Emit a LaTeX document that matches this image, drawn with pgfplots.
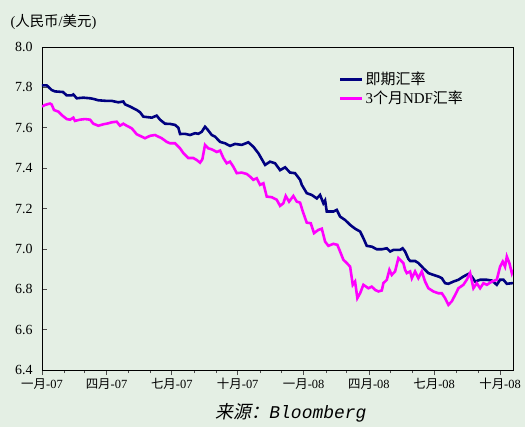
\documentclass[border=0pt]{standalone}
\usepackage{fontspec}
\setmainfont{Liberation Serif}
\newfontfamily\cjk{Noto Sans CJK SC}
\newfontfamily\cjkit[FakeSlant=0.2]{Noto Sans CJK SC}
\newfontfamily\monoit{Liberation Mono}
\usepackage{pgfplots}
\pgfplotsset{compat=1.18}
\definecolor{bg}{RGB}{228,239,228}
\definecolor{spot}{RGB}{0,0,128}
\definecolor{ndf}{RGB}{255,0,255}
\begin{document}
\begin{tikzpicture}
\fill[bg] (0,0) rectangle (525bp,427bp);
\path[use as bounding box] (0,0) rectangle (525bp,427bp);
\begin{axis}[
  at={(42bp,57bp)}, anchor=south west,
  scale only axis, width=471bp, height=323bp,
  xmin=0, xmax=657, ymin=6.4, ymax=8.0,
  axis background/.style={fill=bg},
  axis line style={black, line width=0.8pt},
  xtick={0,90,181,273,365,456,547,639},
  xticklabels={{\cjk 一月}-07,{\cjk 四月}-07,{\cjk 七月}-07,{\cjk 十月}-07,{\cjk 一月}-08,{\cjk 四月}-08,{\cjk 七月}-08,{\cjk 十月}-08},
  minor xtick={31,59,120,151,212,243,304,334,396,425,486,517,578,609},
  ytick={6.4,6.6,...,8.01},
  /pgf/number format/assume math mode=true,
  xtick align=outside, ytick align=inside,
  xtick pos=bottom, ytick pos=left,
  major tick length=5bp, minor tick length=3bp,
  tick style={black!70, line width=0.6pt},
  yticklabel style={font=\fontsize{14}{16}\selectfont, text=black, xshift=-6bp,
    /pgf/number format/.cd, fixed, fixed zerofill, precision=1},
  xticklabel style={font=\fontsize{12.5}{14}\selectfont, text=black},
  legend style={at={(rel axis cs:0.624,0.935)}, anchor=north west, draw=none, fill=none,
    font=\fontsize{15}{18}\selectfont, row sep=1pt, cells={anchor=west}},
  legend image code/.code={\draw[#1] (0bp,0bp) -- (22bp,0bp);},
]
\addplot[spot, line width=2.6pt] table {
0 7.81
6.6 7.81
13.5 7.787
18.1 7.78
29.3 7.777
34.5 7.76
41.4 7.76
43.7 7.765
48.4 7.746
57.6 7.749
67 7.746
71.6 7.743
78.6 7.736
90.3 7.733
97.3 7.733
106.5 7.726
113.4 7.73
115.8 7.716
122.8 7.705
132.1 7.688
136.7 7.677
141.3 7.655
153.1 7.65
160 7.66
164.6 7.64
171.6 7.62
178.6 7.619
185.6 7.614
190.2 7.60
192.6 7.569
199.5 7.57
206.5 7.564
213.5 7.573
218.1 7.57
222.8 7.58
227.4 7.605
231.2 7.59
236.8 7.564
241.4 7.556
248.4 7.53
255.3 7.523
262.3 7.51
269.3 7.52
278.6 7.515
287.8 7.528
294.8 7.506
301.8 7.474
311.2 7.416
318.1 7.432
325.1 7.424
332.1 7.39
339.1 7.404
346 7.378
353 7.375
360 7.342
362.4 7.317
369.3 7.276
376.3 7.267
383.3 7.25
387.9 7.267
392.5 7.226
394.9 7.24
397.2 7.185
406.5 7.185
411.2 7.193
415.8 7.16
422.8 7.143
429.8 7.119
436.7 7.10
443.7 7.086
448.3 7.053
453 7.015
460 7.011
467 6.998
474 6.998
481 7.003
485.6 6.987
490.2 6.995
499.5 6.995
503 7.003
506.5 6.987
511.1 6.95
513.5 6.94
520.4 6.94
525 6.93
532 6.904
539 6.88
546 6.871
553 6.863
557.7 6.855
562.3 6.83
566.9 6.827
573.9 6.838
580.9 6.847
587.8 6.863
594.8 6.876
599.5 6.863
604.2 6.838
611.1 6.847
620.5 6.847
627.5 6.843
634.4 6.822
639 6.847
643.7 6.847
648.4 6.827
655.4 6.83
657 6.83
};
\addlegendentry{\cjk 即期汇率}
\addplot[ndf, line width=2.6pt] table {
0 7.705
4.2 7.713
11.2 7.72
13.5 7.715
16.7 7.688
22.7 7.68
27.5 7.663
34.5 7.643
39.1 7.64
43.7 7.65
46 7.634
53 7.64
60 7.643
67 7.64
71.6 7.62
78.6 7.61
85.5 7.617
92.5 7.622
97.3 7.627
104.2 7.63
108.8 7.61
113.4 7.62
118.2 7.61
125.2 7.597
132.1 7.568
136.7 7.56
143.7 7.548
150.7 7.56
157.7 7.564
162.3 7.556
167 7.548
174 7.53
178.6 7.523
185.6 7.523
192.6 7.498
197.2 7.474
204.1 7.45
211.1 7.45
215.9 7.44
220.5 7.427
223.7 7.444
227.4 7.515
232 7.498
236.8 7.493
243.8 7.48
248.4 7.487
253 7.45
257.7 7.424
262.3 7.432
266.9 7.407
271.7 7.375
278.6 7.378
285.6 7.371
290.2 7.358
294.8 7.342
299.6 7.35
304.2 7.317
308.8 7.325
313.5 7.259
320.5 7.256
327.5 7.243
332.1 7.213
336.7 7.226
340 7.262
344.6 7.234
350.6 7.262
355.4 7.234
360 7.229
363.8 7.185
369.3 7.13
374.9 7.127
379.5 7.078
385.5 7.094
390.3 7.10
394.9 7.036
399.5 7.015
406.5 7.025
412 7.02
415.8 6.987
420.4 6.946
425.1 6.93
429.8 6.912
433.5 6.822
436.7 6.838
439.9 6.756
443.7 6.78
448.3 6.822
455.3 6.805
460 6.813
464.6 6.797
469.2 6.789
474 6.794
476.2 6.83
481 6.847
484.6 6.896
487.9 6.871
492.5 6.888
497.1 6.954
501.9 6.937
504.1 6.929
506.5 6.896
508.9 6.88
513.5 6.888
515.9 6.855
520.4 6.888
525 6.855
529.8 6.888
534.4 6.838
539 6.805
546 6.789
553 6.78
557.7 6.78
562.3 6.756
566.9 6.723
571.6 6.74
576.3 6.772
580.9 6.805
587.8 6.822
592.5 6.847
597.2 6.88
601.8 6.805
606.5 6.83
611.1 6.805
615.8 6.83
620.5 6.822
627.5 6.838
634.4 6.847
639 6.912
642.7 6.937
645.9 6.912
648.4 6.962
652 6.929
655.4 6.88
657 6.896
};
\addlegendentry{3{\cjk 个月}NDF{\cjk 汇率}}
\end{axis}
\node[anchor=west, font=\fontsize{14.5}{16}\selectfont] at (7bp,405bp) {({\cjk 人民币}/{\cjk 美元})};
\node[font=\fontsize{18}{20}\selectfont] at (291bp,14bp) {{\cjkit 来源：}{\monoit\itshape Bloomberg}};
\end{tikzpicture}
\end{document}
